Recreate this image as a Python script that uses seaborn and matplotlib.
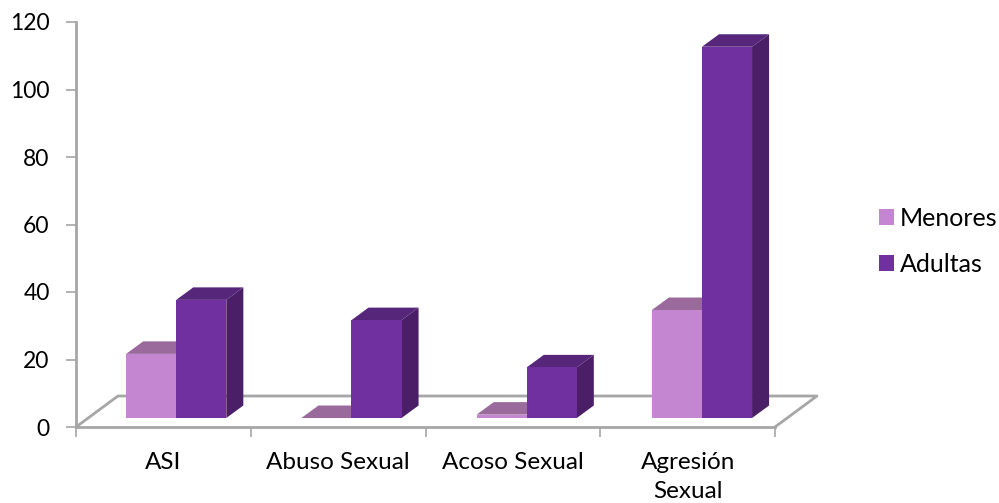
import matplotlib
matplotlib.use("Agg")
import matplotlib.pyplot as plt
import pandas as pd
import seaborn as sns
from matplotlib.patches import Polygon, Patch

categories = ["ASI", "Abuso Sexual", "Acoso Sexual", "Agresión\nSexual"]
menores = [19, 0, 1, 32]
adultas = [35, 29, 15, 110]
yticks = [0, 20, 40, 60, 80, 100, 120]
series_names = ["Menores", "Adultas"]

front = {"Menores": "#C586D1", "Adultas": "#7030A0"}
top = {"Menores": "#9A6A9C", "Adultas": "#55267A"}
side = {"Menores": "#8A5A94", "Adultas": "#4A1F68"}
GRID = "#A6A6A6"

sns.set_theme(style="white")
plt.rcParams["font.family"] = ["Lato", "DejaVu Sans"]

W, H = 999, 503
fig = plt.figure(figsize=(W / 100, H / 100), dpi=100)

def rect(x0, x1, ytop, ybot):
    return [x0 / W, 1 - ybot / H, (x1 - x0) / W, (ybot - ytop) / H]

# Base axes: the wall, floor and tick labels
ax = fig.add_axes(rect(76, 775, 22, 427))
ax.set_xlim(-0.5, 3.5)
ax.set_ylim(0, 120)
ax.set_facecolor("none")
for s in ("top", "right"):
    ax.spines[s].set_visible(False)
for s in ("left", "bottom"):
    ax.spines[s].set_color(GRID)
    ax.spines[s].set_linewidth(2)
ax.set_yticks(yticks)
ax.set_xticks([-0.5, 0.5, 1.5, 2.5, 3.5])
ax.set_xticklabels([])
ax.set_xticks(range(4), labels=categories, minor=True)
ax.tick_params(axis="y", which="major", length=7, width=1.2, color=GRID,
               left=True, labelsize=16.5, labelcolor="black", pad=12)
ax.tick_params(axis="x", which="major", length=7, width=1.2, color=GRID, bottom=True)
ax.tick_params(axis="x", which="minor", length=0, labelsize=17.5, labelcolor="black", pad=18)
for lab in ax.get_xticklabels(minor=True):
    lab.set_linespacing(1.5)

# Floor parallelogram, in axis units offset from the base line
floor_dx = 42 / 175
floor_dy = 31 / (405 / 120)
ax.plot([-0.5, -0.5 + floor_dx, 3.5 + floor_dx, 3.5],
        [0, floor_dy, floor_dy, 0], color=GRID, lw=2, clip_on=False, zorder=1)

# Bars axes: same scale, shifted to sit in the middle of the floor
ax2 = fig.add_axes(rect(76 + 12.6, 777 + 12.6, 22 - 9, 427 - 9))
df = pd.DataFrame({
    "cat": categories * 2,
    "serie": [series_names[0]] * 4 + [series_names[1]] * 4,
    "val": menores + adultas,
})
sns.barplot(data=df, x="cat", y="val", hue="serie", hue_order=series_names,
            palette=front, width=0.5715, gap=0, dodge=True, saturation=1,
            legend=False, errorbar=None, ax=ax2, linewidth=0)
ax2.set_xlim(-0.5, 3.5)
ax2.set_ylim(0, 120)
ax2.axis("off")
ax2.patch.set_alpha(0)

dx = 17 / 175
dy = 12.5 / (405 / 120)
n = len(categories)
bars = [p for p in ax2.patches]
for i, p in enumerate(bars):
    name = series_names[i // n]
    z = 3 + 2 * (i // n)
    p.set_zorder(z + 1)
    x0, x1 = p.get_x(), p.get_x() + p.get_width()
    h = max(p.get_height(), 0)
    ax2.add_patch(Polygon([(x0, h), (x0 + dx, h + dy), (x1 + dx, h + dy), (x1, h)],
                          closed=True, fc=top[name], ec="none", clip_on=False, zorder=z))
    if h > 0 and name == "Adultas":
        ax2.add_patch(Polygon([(x1, 0), (x1 + dx, dy), (x1 + dx, h + dy), (x1, h)],
                              closed=True, fc=side[name], ec="none", clip_on=False, zorder=z))

handles = [Patch(fc=front[k], ec="none") for k in series_names]
fig.legend(handles, series_names, loc="upper left",
           bbox_to_anchor=(879 / W, 1 - 207 / H), frameon=False, fontsize=18,
           labelcolor="black", handlelength=0.6, handleheight=0.6,
           handletextpad=0.25, labelspacing=0.9, borderpad=0, borderaxespad=0)

fig.savefig("out.png", dpi=100, facecolor="white")
